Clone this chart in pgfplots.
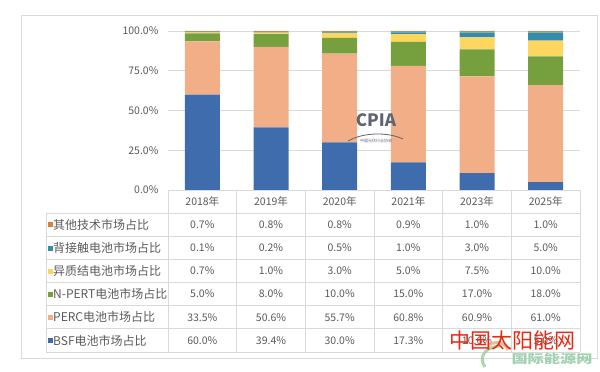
\documentclass[border=0pt]{standalone}
\usepackage{fontspec}
\setmainfont{Noto Sans CJK SC}
\usepackage{pgfplots}
\pgfplotsset{compat=1.18}
\definecolor{cBSF}{RGB}{62,108,172}
\definecolor{cPERC}{RGB}{242,174,134}
\definecolor{cNPERT}{RGB}{118,160,62}
\definecolor{cHJT}{RGB}{253,214,96}
\definecolor{cIBC}{RGB}{50,140,170}
\definecolor{cOther}{RGB}{165,148,118}
\definecolor{cOtherLeg}{RGB}{214,130,62}
\definecolor{txt}{RGB}{90,90,90}
\definecolor{gridc}{RGB}{217,217,217}
\definecolor{cpia}{RGB}{95,100,112}
\definecolor{wmred}{RGB}{232,40,18}
\definecolor{wmgreen}{RGB}{160,210,175}
\definecolor{swg}{RGB}{150,205,150}
\definecolor{swo}{RGB}{240,170,120}
\begin{document}
\begin{tikzpicture}[x=1pt,y=1pt]
\path[use as bounding box] (0,0) rectangle (600,372);
\draw[gridc, line width=0.8pt] (21,14) rectangle (597,357);
\begin{axis}[
  at={(168pt,182pt)}, anchor=south west,
  scale only axis, width=412pt, height=159pt,
  xmin=-0.5, xmax=5.5, ymin=0, ymax=100,
  ybar stacked, bar width=35pt,
  axis line style={draw=none},
  xtick=\empty,
  ytick={0,25,50,75,100},
  yticklabels={0.0\%,25.0\%,50.0\%,75.0\%,100.0\%},
  yticklabel style={font=\fontsize{10.5}{12}\selectfont, text=txt, xshift=-6pt},
  major tick length=0pt,
  ymajorgrids, grid style={gridc, line width=0.7pt},
  clip=false,
]
\addplot[fill=cBSF, draw=none] coordinates {(0,60.0) (1,39.4) (2,30.0) (3,17.3) (4,10.6) (5,5.0)};
\addplot[fill=cPERC, draw=none] coordinates {(0,33.5) (1,50.6) (2,55.7) (3,60.8) (4,60.9) (5,61.0)};
\addplot[fill=cNPERT, draw=none] coordinates {(0,5.0) (1,8.0) (2,10.0) (3,15.0) (4,17.0) (5,18.0)};
\addplot[fill=cHJT, draw=none] coordinates {(0,0.7) (1,1.0) (2,3.0) (3,5.0) (4,7.5) (5,10.0)};
\addplot[fill=cIBC, draw=none] coordinates {(0,0.1) (1,0.2) (2,0.5) (3,1.0) (4,3.0) (5,5.0)};
\addplot[fill=cOther, draw=none] coordinates {(0,0.7) (1,0.8) (2,0.8) (3,0.9) (4,1.0) (5,1.0)};
\end{axis}
% CPIA watermark
\node[text=cpia, font=\bfseries\fontsize{17}{18}\selectfont] at (376,252) {CPIA};
\draw[cpia, line width=0.8pt] (348,231) .. controls (364,240) and (388,240) .. (403,233);
\node[text=cpia, font=\fontsize{4}{5}\selectfont] at (376,231) {中国光伏行业协会};
% table grid
\foreach \yy in {159, 135.8, 112.7, 89.5, 66.3, 43.2, 20} {
  \draw[gridc, line width=0.7pt] (46,\yy) -- (580,\yy);
}
\draw[gridc, line width=0.7pt] (46,159) -- (46,20);
\foreach \i in {0,...,6} {
  \draw[gridc, line width=0.7pt] ({168+\i*68.67},182) -- ({168+\i*68.67},20);
}
% header
\foreach \lab [count=\i from 0] in {2018年,2019年,2020年,2021年,2023年,2025年} {
  \node[text=txt, font=\fontsize{10.5}{12}\selectfont] at ({168+(\i+0.5)*68.67},170.5) {\lab};
}
% row labels
\foreach \lab/\col [count=\r from 0] in {其他技术市场占比/cOtherLeg, 背接触电池市场占比/cIBC, 异质结电池市场占比/cHJT, N-PERT电池市场占比/cNPERT, PERC电池市场占比/cPERC, BSF电池市场占比/cBSF} {
  \fill[\col] (47.5,{147.4-\r*23.17-2.8}) rectangle ++(5,5);
  \node[anchor=west, inner sep=0pt, text=txt, font=\fontsize{12}{14}\selectfont] at (53,{147.4-\r*23.17}) {\lab};
}
% values
\foreach \row [count=\r from 0] in {
  {0.7\%,0.8\%,0.8\%,0.9\%,1.0\%,1.0\%},
  {0.1\%,0.2\%,0.5\%,1.0\%,3.0\%,5.0\%},
  {0.7\%,1.0\%,3.0\%,5.0\%,7.5\%,10.0\%},
  {5.0\%,8.0\%,10.0\%,15.0\%,17.0\%,18.0\%},
  {33.5\%,50.6\%,55.7\%,60.8\%,60.9\%,61.0\%},
  {60.0\%,39.4\%,30.0\%,17.3\%,10.6\%,5.0\%}} {
  \foreach \v [count=\i from 0] in \row {
    \node[text=txt, font=\fontsize{10.5}{12}\selectfont] at ({168+(\i+0.5)*68.67},{147.4-\r*23.17}) {\v};
  }
}
% site watermark
\draw[swg, line width=3pt, opacity=0.8] (485,5) .. controls (478,15) and (485,25) .. (500,26);
\draw[swo, line width=3pt, opacity=0.8] (488,26) .. controls (495,32) and (505,30) .. (508,22);
\node[text=wmred, font=\fontsize{21}{22}\selectfont] at (512,31) {中国太阳能网};
\node[text=wmgreen, font=\bfseries\itshape\fontsize{12}{13}\selectfont, xscale=1.35] at (552,13) {国际能源网};
\end{tikzpicture}
\end{document}
